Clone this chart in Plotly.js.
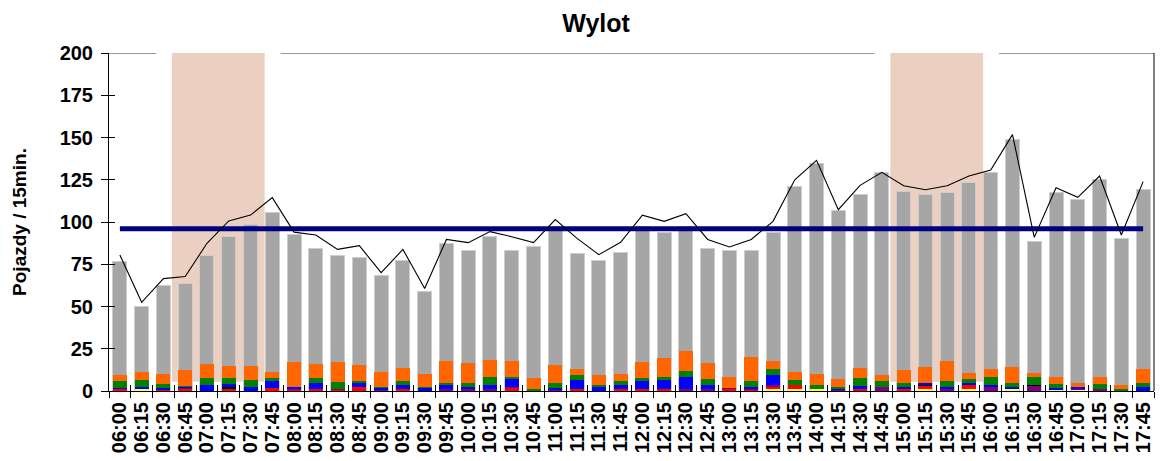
<!DOCTYPE html>
<html>
<head>
<meta charset="utf-8">
<script src="https://cdn.plot.ly/plotly-3.0.1.min.js"></script>
<style>
  html, body { margin: 0; padding: 0; background: #ffffff; }
  #chart { width: 1162px; height: 461px; }
</style>
</head>
<body>
<div id="chart"></div>
<script>
// ---- data ----
const times = ["06:00","06:15","06:30","06:45","07:00","07:15","07:30","07:45",
  "08:00","08:15","08:30","08:45","09:00","09:15","09:30","09:45",
  "10:00","10:15","10:30","10:45","11:00","11:15","11:30","11:45",
  "12:00","12:15","12:30","12:45","13:00","13:15","13:30","13:45",
  "14:00","14:15","14:30","14:45","15:00","15:15","15:30","15:45",
  "16:00","16:15","16:30","16:45","17:00","17:15","17:30","17:45"];

// full height of each bar (grey part reaches this level)
const barTotals = [76.5,49.9,62.3,63.5,79.9,91.5,98.8,105.5,
  92.7,84.6,79.9,78.9,68.2,77.5,58.8,87.0,
  83.4,91.5,83.4,85.6,97.4,81.1,77.5,82.2,
  97.4,93.9,97.4,84.6,83.4,83.4,93.9,120.9,
  134.7,106.7,116.0,129.0,118.3,116.0,117.2,123.1,
  129.0,148.9,88.2,117.2,113.6,125.4,90.3,119.5];

// thin black line
const lineValues = [80.5,52.5,66.5,67.7,87.4,100.6,104.1,114.4,
  94.0,92.3,83.8,86.0,70.0,83.8,60.7,89.7,
  87.8,94.3,91.3,87.8,101.4,90.3,80.7,88.0,
  104.0,100.4,104.9,89.7,85.2,89.7,100.4,125.0,
  136.5,107.3,121.7,129.4,121.5,119.1,121.5,127.2,
  130.8,151.7,90.9,120.3,114.6,127.2,92.3,123.9];

// average level (thick navy line)
const averageLevel = 96;

// coloured segments at the bottom of the bars (bottom to top)
const yellowSeg = [0,1.3,0,0,0,0,0,0, 0,0,0,0,0,0,0,0, 0,0,0,0,0,0,0,0,
  0,0,0,0,0,0,1.0,1.2, 1.2,0,0,0,0,1.2,0,1.2, 0,1.0,0,0.6,0.6,0,0,0];
const redSeg = [1.0,0,0.4,1.0,0,1.0,0,2.0, 0.6,1.0,0.5,2.4,0,1.4,0,0,
  0,0,1.6,0,0,1.4,0,1.2, 1.2,1.2,0,0,1.0,0.8,1.6,2.2,
  0,0,1.2,0,1.2,1.8,0,2.4, 0,0,0,0,0,0,0,0];
const purpleSeg = [0.3,0,0,0.6,0,0.4,0,0, 0.8,0,0.6,0,0.4,0,0,1.0,
  1.4,1.0,1.0,0,0.6,0,0,0, 0,0,1.4,1.4,0.6,0.6,1.2,0,
  0,0.8,0,2.2,0,0,1.4,0, 2.6,0,2.8,0,0.8,1.2,0,0];
const blackSeg = [0,0,0,0,0,0.8,0,0, 0,0,0,0,0,0,0,0, 0,0,0,0,0,0,0,0,
  0,0,0,0,0,0,0,0, 0,0,0,0,0,0.6,0,0, 0,0,0.8,0,0,0,0,0];
const blueSeg = [0.6,1.0,1.2,0.8,3.4,2.2,2.4,3.7, 1.0,3.5,0,2.6,1.2,2.0,1.6,2.6,
  1.2,2.6,4.3,0,1.2,5.3,2.4,2.2, 4.5,5.5,6.7,2.2,0,1.2,5.5,0,
  0,0.6,1.8,0,1.2,1.2,1.2,1.2, 1.2,1.2,0,1.0,0.8,0,0,2.2];
const greenSeg = [3.9,4.3,2.8,0.8,4.5,3.4,4.3,2.2, 0,3.4,4.3,0.8,0.8,2.3,0.8,1.2,
  2.2,4.5,1.2,1.0,3.0,2.6,1.0,2.4, 2.2,1.4,3.6,3.4,0,3.2,3.6,3.4,
  2.2,1.2,4.5,3.6,2.2,0,3.4,2.2, 4.3,2.4,4.5,2.4,0,3.2,1.0,2.4];
const orangeSeg = [3.5,4.5,5.7,9.3,8.3,7.1,8.3,3.5, 15.0,8.3,11.6,9.3,9.1,8.0,7.9,12.8,
  11.8,10.5,9.5,6.9,10.7,3.6,5.9,4.5, 9.5,11.6,11.8,9.5,6.5,14.2,4.7,4.7,
  6.9,4.3,5.9,3.6,8.1,9.3,11.6,3.6, 4.7,9.5,2.4,4.5,2.4,3.6,2.6,8.3];

// peak hour windows (first and last shaded slot)
const peakWindows = [["06:45","07:30"], ["15:00","15:45"]];

// ---- styling / layout ----
const FONT = "Liberation Sans, Arial, Helvetica, sans-serif";
const idx = t => times.indexOf(t);
const n = times.length;

const traces = [];
traces.push({
  type: "bar", x: times, y: barTotals, xaxis: "x", yaxis: "y",
  marker: { color: "#a6a6a6", line: { color: "#cdcdcd", width: 1 } },
  hoverinfo: "x+y", showlegend: false
});
const segs = [
  [yellowSeg, "#ffff33"], [redSeg, "#ff0000"], [purpleSeg, "#800080"],
  [blackSeg, "#000000"], [blueSeg, "#0000ff"], [greenSeg, "#008000"],
  [orangeSeg, "#ff6600"]
];
segs.forEach(([vals, col]) => {
  traces.push({
    type: "bar", x: times, y: vals, xaxis: "x2", yaxis: "y2",
    marker: { color: col, line: { width: 0 } }, showlegend: false
  });
});
traces.push({
  type: "scatter", mode: "lines", x: [times[0], times[n - 1]],
  y: [averageLevel, averageLevel], xaxis: "x2", yaxis: "y2",
  line: { color: "#000080", width: 5 }, showlegend: false
});
traces.push({
  type: "scatter", mode: "lines", x: times, y: lineValues,
  xaxis: "x2", yaxis: "y2",
  line: { color: "#000000", width: 1.1 }, showlegend: false
});

const shapes = [];
peakWindows.forEach(([a, b]) => {
  const i0 = idx(a), i1 = idx(b);
  shapes.push({
    type: "rect", xref: "x", yref: "y", layer: "below",
    x0: i0 - 0.61, x1: i1 + 0.65, y0: 5.5, y1: 200.6,
    fillcolor: "rgb(235,208,194)", line: { width: 0 }
  });
});
// top frame line with gaps around the peak windows
const gapEdges = [];
peakWindows.forEach(([a, b]) => { gapEdges.push([idx(a) - 1.33, idx(b) + 1.38]); });
let start = -0.5;
gapEdges.forEach(([g0, g1]) => {
  shapes.push({ type: "line", xref: "x", yref: "y", x0: start, x1: g0, y0: 200, y1: 200,
    line: { color: "#333333", width: 1 } });
  start = g1;
});
shapes.push({ type: "line", xref: "x", yref: "y", x0: start, x1: n - 0.5, y0: 200, y1: 200,
  line: { color: "#333333", width: 1 } });
// right frame
shapes.push({ type: "line", xref: "paper", yref: "y", x0: 1, x1: 1, y0: 0, y1: 200,
  line: { color: "#000000", width: 1 } });

const layout = {
  width: 1162, height: 461,
  margin: { l: 109, r: 8, t: 53, b: 70, pad: 0 },
  paper_bgcolor: "#ffffff", plot_bgcolor: "rgba(0,0,0,0)",
  barmode: "stack", bargap: 0.357,
  showlegend: false,
  font: { family: FONT, color: "#000000" },
  title: {
    text: "Wylot", xref: "container", x: 0.513, xanchor: "center",
    yref: "container", y: 0.95, yanchor: "middle",
    font: { family: FONT, size: 25, weight: "bold", color: "#000000" }
  },
  xaxis: {
    type: "category", categoryorder: "array", categoryarray: times,
    range: [-0.5, n - 0.5], fixedrange: true,
    tickmode: "linear", dtick: 1,
    showline: true, linecolor: "#000000", linewidth: 1,
    ticks: "outside", ticklen: 6, tickwidth: 1, tickcolor: "#000000",
    tickson: "boundaries", tickangle: -90,
    tickfont: { family: FONT, size: 20, weight: "bold", color: "#000000" },
    ticklabelstandoff: 2,
    showgrid: false, zeroline: false
  },
  yaxis: {
    range: [0, 200], dtick: 25, tick0: 0, fixedrange: true,
    showline: true, linecolor: "#000000", linewidth: 1,
    ticks: "outside", ticklen: 7, tickwidth: 1, tickcolor: "#000000",
    tickfont: { family: FONT, size: 20, weight: "bold", color: "#000000" },
    ticklabelstandoff: 4,
    showgrid: false, zeroline: false,
    title: { text: "Pojazdy / 15min.", standoff: 27,
      font: { family: FONT, size: 19, weight: "bold", color: "#000000" } }
  },
  xaxis2: {
    type: "category", categoryorder: "array", categoryarray: times,
    overlaying: "x", anchor: "y2", side: "bottom",
    range: [-0.5, n - 0.5], fixedrange: true,
    showline: false, ticks: "inside", ticklen: 6, tickwidth: 1, tickcolor: "#000000",
    tickson: "boundaries", showticklabels: false, showgrid: false, zeroline: false
  },
  yaxis2: {
    overlaying: "y", anchor: "x2", side: "left",
    range: [0, 200], dtick: 25, tick0: 0, fixedrange: true,
    showline: false, ticks: "inside", ticklen: 6, tickwidth: 1, tickcolor: "#000000",
    showticklabels: false, showgrid: false, zeroline: false
  },
  shapes: shapes
};

Plotly.newPlot("chart", traces, layout, { displayModeBar: false, staticPlot: true });
</script>
</body>
</html>
